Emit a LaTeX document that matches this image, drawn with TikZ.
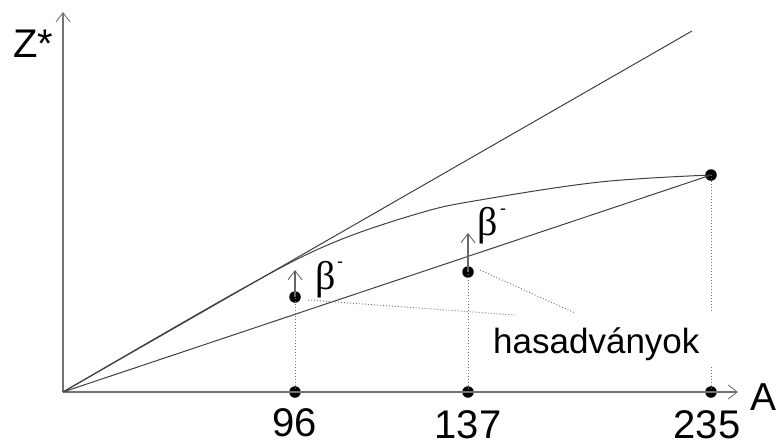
\documentclass[tikz,border=0pt]{standalone}
\usepackage{fontspec}
\setmainfont{Liberation Sans}
\newfontfamily\betafont{Liberation Serif}
\usetikzlibrary{arrows.meta}
\begin{document}
\begin{tikzpicture}[x=1pt,y=-1pt,
  axisline/.style={draw=black!55,line width=1.1pt,-{Straight Barb[length=9pt,width=14pt,line width=0.9pt]}},
  curveline/.style={draw=black!75,line width=1pt},
  dotline/.style={draw=black!55,line width=1pt,dotted},
  uparrow/.style={draw=black!60,line width=1.1pt,-{Straight Barb[length=9pt,width=14pt,line width=0.9pt]}},
  blob/.style={circle,fill=black,inner sep=0pt,minimum size=11.5pt},
  lbl/.style={inner sep=0pt}]
\useasboundingbox (0,0) rectangle (777,445);
\coordinate (O) at (63,392);
\coordinate (ytop) at (63,12);
\coordinate (xend) at (738,392);
\coordinate (ulend) at (692,31);
% dots
\node[blob] (p1) at (295,297) {};
\node[blob] (p2) at (468,272) {};
\node[blob] (p3) at (711,175) {};
\node[blob] (b1) at (295,392) {};
\node[blob] (b2) at (468,392) {};
\node[blob] (b3) at (711,392) {};
% axes
\draw[axisline] (O) -- (ytop);
\draw[axisline] (O) -- (xend);
% lines
\draw[curveline] (O) -- (ulend);
\draw[curveline] (O) -- (p3.center);
\draw[curveline] plot[smooth,tension=0.6] coordinates {(63,392) (240,290) (330,244) (420,213) (480,200) (600,182) (711,175)};
% dotted verticals
\draw[dotline] (b1.center) -- (p1.center);
\draw[dotline] (b2.center) -- (p2.center);
\coordinate (g1) at (711,313);
\coordinate (g2) at (711,367);
\draw[dotline] (p3.center) -- (g1);
\draw[dotline] (g2) -- (b3.center);
% beta arrows
\coordinate (a1) at (295,270);
\coordinate (a2) at (468,233);
\draw[uparrow] (p1.center) -- (a1);
\draw[uparrow] (p2.center) -- (a2);
% labels
\node[lbl,anchor=base west,font=\fontsize{40}{40}\selectfont] (zlab) at (13,57) {Z*};
\node[lbl,anchor=base west,font=\fontsize{39}{39}\selectfont] (alab) at (750,410) {A};
\node[lbl,anchor=base,font=\fontsize{40}{40}\selectfont] (n96) at (295,436) {96};
\node[lbl,anchor=base,font=\fontsize{40}{40}\selectfont] (n137) at (468,438) {137};
\node[lbl,anchor=base,font=\fontsize{40}{40}\selectfont] (n235) at (707,438) {235};
\node[lbl,anchor=base west,font=\fontsize{35}{35}\selectfont] (has) at (493,353) {hasadványok};
\node[lbl,anchor=base west,font=\betafont\fontsize{40}{40}\selectfont] (beta1) at (315,289) {β};
\node[lbl,font=\fontsize{18}{18}\selectfont] (m1) at (340,265) {-};
\node[lbl,anchor=base west,font=\betafont\fontsize{40}{40}\selectfont] (beta2) at (477,235) {β};
\node[lbl,font=\fontsize{18}{18}\selectfont] (m2) at (503,212) {-};
% pointer lines to label
\coordinate (t1) at (515,315);
\coordinate (t2) at (575,313);
\coordinate (s1) at (308,300);
\coordinate (s2) at (480,270);
\draw[dotline,line width=0.9pt] (s1) -- (t1);
\draw[dotline,line width=0.9pt] (s2) -- (t2);
\end{tikzpicture}
\end{document}
